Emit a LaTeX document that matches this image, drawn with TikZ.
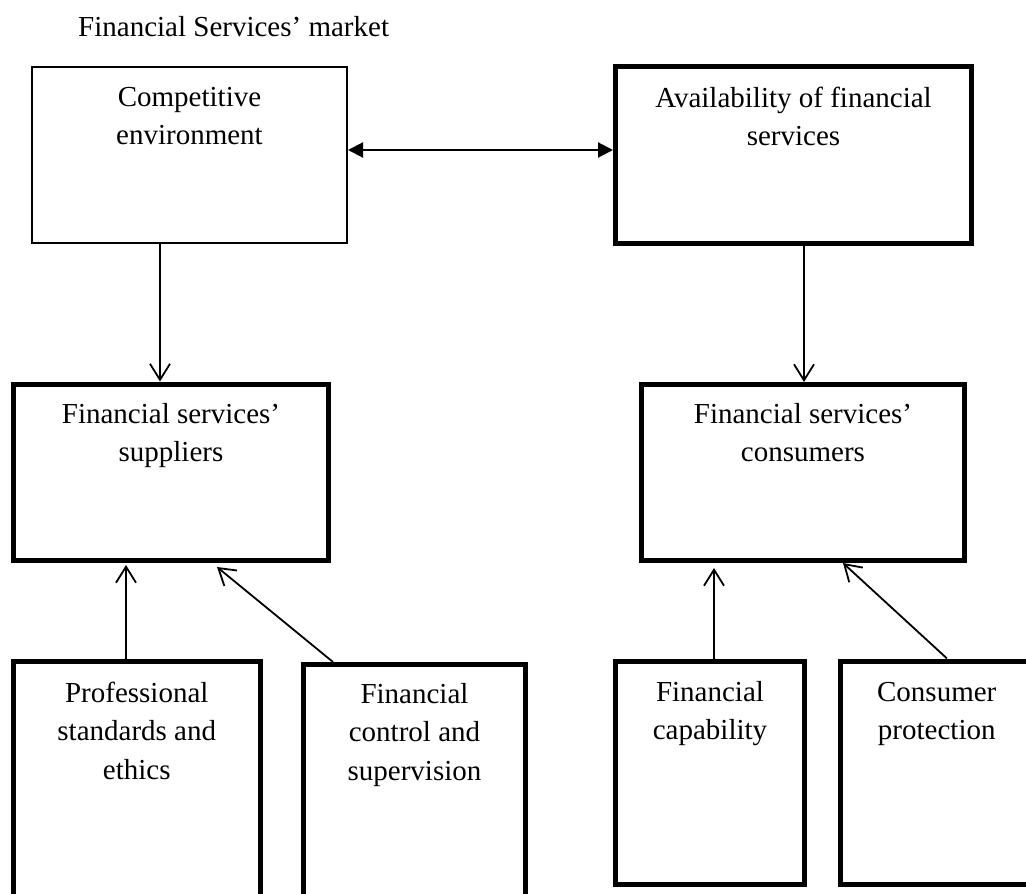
\documentclass[tikz,border=0pt]{standalone}
\usepackage{fontspec}
\setmainfont{Liberation Serif}
\usetikzlibrary{arrows.meta,calc}
\begin{document}
\begin{tikzpicture}[x=1pt,y=-1pt,
  box/.style={draw=black, line width=5pt, inner sep=0pt},
  thinbox/.style={box, line width=2pt},
  lbl/.style={font=\fontsize{29}{38.5}\selectfont, align=center, inner sep=0pt, anchor=base},
  arr/.style={draw=black, line width=1.8pt, -{Straight Barb[length=16pt,width=20pt]}},
  dbl/.style={draw=black, line width=2pt, {Triangle[length=15pt,width=15pt]}-{Triangle[length=15pt,width=15pt]}}]
\useasboundingbox (0,0) rectangle (1026,894);
\clip (0,0) rectangle (1026,894);
\fill[white] (0,0) rectangle (1026,894);

% title
\node[lbl, anchor=base west] (title) at (78,36) {Financial Services’ market};

% boxes
\node[thinbox, minimum width=315pt, minimum height=176pt] (b1) at (189.5,154.5) {};
\node[box, minimum width=356pt, minimum height=176.5pt] (b2) at (793.5,154.75) {};
\node[box, minimum width=315pt, minimum height=176.5pt] (b3) at (171,472.25) {};
\node[box, minimum width=323pt, minimum height=176pt] (b4) at (803,472.5) {};
\node[box, minimum width=246.5pt, minimum height=289pt] (b5) at (136.75,805.5) {};
\node[box, minimum width=222pt, minimum height=285.5pt] (b6) at (414.5,807.25) {};
\node[box, minimum width=189pt, minimum height=223.5pt] (b7) at (710,772.75) {};
\node[box, minimum width=192.5pt, minimum height=223.5pt] (b8) at (936.75,772.75) {};

% labels (base anchor = baseline of the last line)
\node[lbl] (t1) at (189.5,144.5) {Competitive\\environment};
\node[lbl] (t2) at (793.5,145.5) {Availability of financial\\services};
\node[lbl] (t3) at (171,461.5) {Financial services’\\suppliers};
\node[lbl] (t4) at (803,461.5) {Financial services’\\consumers};
\node[lbl] (t5) at (136.75,779) {Professional\\standards and\\ethics};
\node[lbl] (t6) at (414.5,780) {Financial\\control and\\supervision};
\node[lbl] (t7) at (710,739.5) {Financial\\capability};
\node[lbl] (t8) at (936.75,739.5) {Consumer\\protection};

% connectors
\draw[dbl] ([yshift=4.5pt]b1.east) -- ([yshift=4.5pt]b1.east -| b2.west);
\draw[arr] ([xshift=-29.5pt]b1.south) -- ([xshift=-29.5pt]b1.south |- b3.north);
\draw[arr] ([xshift=10.5pt]b2.south) -- ([xshift=10.5pt]b2.south |- b4.north);
\draw[arr, shorten >=2pt] ([xshift=-10.75pt]b5.north) -- ([xshift=-10.75pt]b5.north |- b3.south);
\draw[arr] ([xshift=-81.5pt]b6.north) -- ([xshift=46pt,yshift=-4pt]b3.south);
\draw[arr, shorten >=5pt] ([xshift=4pt]b7.north) -- ([xshift=4pt]b7.north |- b4.south);
\draw[arr] ([xshift=10.25pt]b8.north) -- ([xshift=40pt]b4.south);
\end{tikzpicture}
\end{document}
